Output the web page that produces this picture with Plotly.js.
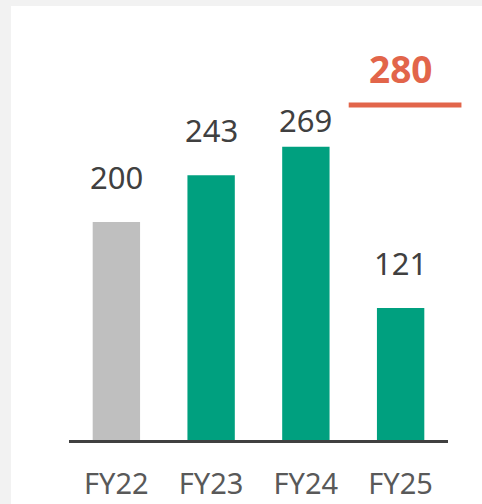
<!DOCTYPE html>
<html>
<head>
<meta charset="utf-8">
<script src="https://cdn.plot.ly/plotly-3.0.1.min.js"></script>
<style>
  html, body { margin: 0; padding: 0; background: #f2f2f2; width: 482px; height: 504px; overflow: hidden; }
  #chart { position: absolute; left: 11px; top: 6px; width: 471px; height: 498px; background: #ffffff; }
</style>
</head>
<body>
<div id="chart"></div>
<script>
const categories = ['FY22', 'FY23', 'FY24', 'FY25'];
const values = [200, 243, 269, 121];
const barColors = ['#bfbfbf', '#00a07f', '#00a07f', '#00a07f'];
const targetCategory = 'FY25';
const targetValue = 280;
const targetLabel = '280';

// label offsets above bars (pixels) – styling only
const labelShift = [22, 22, 4, 22];

const FONT = 'Noto Sans, sans-serif';

const traces = [
  {
    type: 'bar',
    x: categories,
    y: values,
    width: 0.5,
    marker: { color: barColors },
    hoverinfo: 'none'
  },
  {
    type: 'scatter',
    mode: 'markers',
    x: [targetCategory],
    y: [targetValue],
    yaxis: 'y2',
    marker: { opacity: 0 },
    hoverinfo: 'none',
    showlegend: false
  }
];

const annotations = categories.map((c, i) => ({
  x: c, y: values[i], xref: 'x', yref: 'y',
  text: String(values[i]),
  showarrow: false, yanchor: 'bottom', yshift: labelShift[i],
  font: { family: FONT, size: 31, color: '#404040' }
}));
annotations.push({
  x: targetCategory, y: targetValue, xref: 'x', yref: 'y2',
  text: '<b>' + targetLabel + '</b>',
  showarrow: false, yanchor: 'bottom', yshift: 9,
  font: { family: FONT, size: 37, color: '#e2654a' }
});

const layout = {
  width: 471, height: 498,
  margin: { l: 57.5, r: 33.5, t: 34, b: 64 },
  paper_bgcolor: '#ffffff',
  plot_bgcolor: '#ffffff',
  showlegend: false,
  xaxis: {
    type: 'category',
    categoryorder: 'array', categoryarray: categories,
    range: [-0.5, 3.5],
    showline: true, linecolor: '#404040', linewidth: 2.5,
    showgrid: false, zeroline: false,
    ticks: '', ticklabelstandoff: 17,
    tickfont: { family: FONT, size: 29, color: '#595959' },
    fixedrange: true
  },
  yaxis: {
    range: [0, 367],
    visible: false, showgrid: false, zeroline: false, fixedrange: true
  },
  yaxis2: {
    range: [0, 334.3],
    overlaying: 'y',
    visible: false, showgrid: false, zeroline: false, fixedrange: true
  },
  shapes: [{
    type: 'line', xref: 'paper', yref: 'y2',
    x0: 0.738, x1: 1.0355,
    y0: targetValue, y1: targetValue,
    line: { color: '#e2654a', width: 5 }
  }],
  annotations: annotations
};

Plotly.newPlot('chart', traces, layout, { displayModeBar: false, staticPlot: true });
</script>
</body>
</html>
